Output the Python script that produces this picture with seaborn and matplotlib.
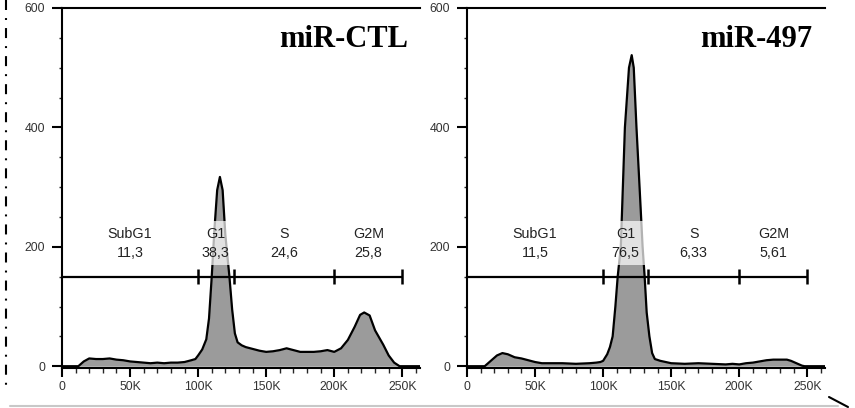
import matplotlib
matplotlib.use('Agg')
import matplotlib.pyplot as plt
from matplotlib.lines import Line2D
from matplotlib.ticker import MultipleLocator, FuncFormatter
import pandas as pd
import seaborn as sns

# DNA content (x, in thousands) and cell counts
ctl_dna = [0, 12, 16, 20, 25, 30, 35, 40, 45, 50, 55, 60, 65, 70, 75, 80, 85, 90,
           95, 98, 100, 103, 106, 108, 110, 112, 114, 116, 118, 120, 123, 125,
           127, 129, 132, 135, 140, 145, 150, 155, 160, 165, 170, 175, 180, 185,
           190, 195, 200, 205, 210, 215, 219, 222, 226, 230, 233, 236, 240, 244,
           248, 263]
ctl_count = [0, 0, 8, 13, 12, 12, 13, 11, 10, 8, 7, 6, 5, 6, 5, 6, 6, 7,
             10, 12, 18, 28, 45, 80, 150, 230, 295, 317, 295, 220, 150, 95,
             55, 40, 35, 32, 29, 26, 24, 25, 27, 30, 27, 24, 24, 24,
             25, 27, 24, 30, 44, 66, 86, 90, 85, 60, 48, 36, 18, 6,
             0, 0]

m497_dna = [0, 13, 17, 22, 26, 30, 35, 40, 45, 50, 55, 60, 70, 80, 90, 95, 98,
            100, 103, 105, 107, 109, 110.7, 113, 116, 119, 121, 122.5, 124.5,
            127, 129, 130.5, 132, 134, 136, 138, 142, 146, 150, 160, 170, 180,
            190, 195, 200, 205, 210, 215, 220, 225, 230, 235, 238, 242, 246,
            248, 263]
m497_count = [0, 0, 8, 18, 22, 20, 15, 13, 10, 7, 5, 5, 5, 4, 5, 6, 7,
              9, 20, 32, 50, 100, 150, 200, 400, 500, 521, 500, 400,
              290, 200, 150, 90, 50, 22, 12, 9, 7, 5, 4, 5, 4,
              3, 4, 3, 5, 6, 8, 10, 11, 11, 11, 9, 5, 1,
              0, 0]

samples = ['miR-CTL', 'miR-497']
gate_names = ['SubG1', 'G1', 'S', 'G2M']
ctl_gate_edges = [0, 100, 126, 200, 250]
m497_gate_edges = [0, 100, 133, 200, 250]
ctl_pct = ['11,3', '38,3', '24,6', '25,8']
m497_pct = ['11,5', '76,5', '6,33', '5,61']
gate_level = 150

sns.set_theme(style='ticks')
plt.rcParams['font.family'] = ['Liberation Sans', 'DejaVu Sans']
plt.rcParams['lines.scale_dashes'] = False

fig = plt.figure(figsize=(8.55, 4.08), dpi=100)
W, H = 855, 408
axes = [fig.add_axes([62 / W, 1 - 368 / H, 358 / W, 360 / H]),
        fig.add_axes([467 / W, 1 - 368 / H, 358 / W, 360 / H])]

panels = [
    (ctl_dna, ctl_count, ctl_gate_edges, ctl_pct),
    (m497_dna, m497_count, m497_gate_edges, m497_pct),
]

fill_grey = '#9b9b9b'
for ax, name, (dna, cnt, edges, pct) in zip(axes, samples, panels):
    df = pd.DataFrame({'dna': dna, 'count': cnt})
    ax.fill_between(df['dna'], df['count'], 0, color=fill_grey, lw=0, zorder=2)
    sns.lineplot(data=df, x='dna', y='count', ax=ax, color='black', lw=1.6,
                 estimator=None, zorder=3)

    # gate bar with boundary ticks
    ax.plot([edges[0], edges[-1]], [gate_level, gate_level], color='black',
            lw=1.6, zorder=4, solid_capstyle='butt')
    ax.vlines(edges[1:], gate_level - 12, gate_level + 12, color='black',
              lw=1.8, zorder=4)
    for g, lo, hi, p in zip(gate_names, edges[:-1], edges[1:], pct):
        ax.text((lo + hi) / 2, 206, f'{g}\n{p}', ha='center', va='center',
                fontsize=10.3, linespacing=1.45, color='#222222', zorder=5,
                bbox=dict(boxstyle='square,pad=0.4', facecolor='white',
                          edgecolor='none', alpha=0.7))

    ax.text(254, 534, name, ha='right', va='baseline', fontsize=22,
            fontweight='bold', family=['Liberation Serif', 'DejaVu Serif'],
            color='black', zorder=6)

    ax.set_xlim(0, 263)
    ax.set_ylim(-3, 600)
    ax.set_xlabel('')
    ax.set_ylabel('')
    ax.xaxis.set_major_locator(MultipleLocator(50))
    ax.xaxis.set_minor_locator(MultipleLocator(10))
    ax.yaxis.set_major_locator(MultipleLocator(200))
    ax.yaxis.set_minor_locator(MultipleLocator(50))
    ax.xaxis.set_major_formatter(FuncFormatter(
        lambda v, _: '0' if v == 0 else f'{int(v)}K'))
    ax.tick_params(axis='both', which='major', labelsize=8.8, labelcolor='#333333',
                   color='black')
    ax.tick_params(axis='x', which='major', length=6.5, width=1.5, pad=3)
    ax.tick_params(axis='x', which='minor', length=3.6, width=1.0)
    ax.tick_params(axis='y', which='major', length=7.2, width=1.5, pad=5)
    ax.tick_params(axis='y', which='minor', length=2.5, width=1.0)
    for side in ['left', 'bottom', 'top']:
        ax.spines[side].set_linewidth(1.5)
        ax.spines[side].set_color('black')
    ax.spines['right'].set_visible(False)
    ax.set_facecolor('white')
    ax.grid(False)

# page decorations around the figure panel
fig.add_artist(Line2D([6 / W, 6 / W], [1.0, 1 - 390 / H], transform=fig.transFigure,
                      color='black', lw=1.5,
                      linestyle=(0, (7.2, 5.8, 1.4, 5.8))))
fig.add_artist(Line2D([10 / W, 838 / W], [1 - 406 / H, 1 - 406 / H],
                      transform=fig.transFigure, color='#c8c8c8', lw=1.5))
fig.add_artist(Line2D([829 / W, 848 / W], [1 - 397 / H, 1 - 407 / H],
                      transform=fig.transFigure, color='black', lw=1.5))

fig.savefig('out.png', dpi=100, facecolor='white')
